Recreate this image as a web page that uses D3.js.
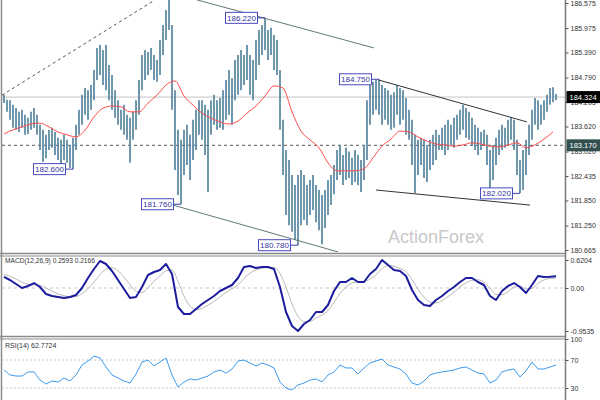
<!DOCTYPE html>
<html><head><meta charset="utf-8">
<script src="https://cdn.jsdelivr.net/npm/d3@7"></script>
<style>body{margin:0;background:#fff}svg{display:block}text{font-family:"Liberation Sans",Arial,sans-serif}</style>
</head><body><svg id="c" width="600" height="400"></svg>
<script>
// ---- data ----
const barHigh = [184.38,184.26,184.25,184.14,184.06,183.97,184.02,183.90,183.83,183.97,
184.06,183.90,183.66,183.54,183.42,183.54,183.59,183.49,183.35,183.30,
183.42,183.30,183.18,183.35,183.66,184.02,184.38,184.54,184.49,184.61,
184.97,185.50,185.57,185.45,185.57,185.09,184.85,184.49,184.25,184.02,
184.14,183.90,183.83,183.97,184.25,184.73,185.33,185.45,185.40,185.50,
185.33,185.21,185.69,186.05,186.41,186.65,186.05,184.49,183.54,183.30,
183.54,183.66,183.42,183.78,184.02,184.25,184.25,184.14,184.02,184.25,
184.38,184.25,184.30,184.49,184.73,184.97,184.78,185.21,185.33,185.45,
185.33,185.57,185.33,185.21,185.69,185.93,186.05,186.22,185.93,185.98,
185.81,185.69,184.97,183.78,183.06,182.82,182.46,182.22,182.46,182.58,
182.46,182.22,182.34,182.46,182.22,182.10,181.98,182.10,182.34,182.46,
182.70,183.06,183.18,182.94,183.11,183.02,182.87,183.06,182.94,182.82,
183.18,184.25,184.61,184.69,184.73,184.75,184.61,184.54,184.49,184.38,
184.44,184.61,184.54,184.49,184.30,184.02,183.78,183.42,183.30,183.35,
183.30,183.18,183.30,183.42,183.54,183.42,183.59,183.66,183.78,183.66,
183.83,183.90,184.02,184.14,184.06,183.97,183.83,183.66,183.59,183.49,
183.54,183.42,183.06,183.18,183.35,183.54,183.66,183.59,183.78,183.83,
183.78,183.30,182.82,183.06,183.30,183.66,184.02,184.30,184.25,184.14,
184.25,184.38,184.54,184.56,184.40];
const barLow = [184.18,183.97,183.78,183.59,183.54,183.49,183.59,183.42,183.44,183.54,
183.59,183.42,183.06,182.77,182.86,183.06,183.11,182.94,182.82,182.70,
182.82,182.75,182.63,182.60,183.06,183.42,183.66,183.90,183.78,184.02,
184.25,184.73,184.85,184.61,184.49,184.25,184.02,183.83,183.66,183.54,
183.42,183.30,182.75,183.30,183.54,183.90,184.49,184.73,184.85,184.97,
184.73,184.69,184.85,185.33,185.69,185.93,184.02,182.58,181.98,181.76,
182.46,182.70,182.34,182.82,183.06,183.42,183.30,182.94,182.05,183.42,
183.66,183.54,183.59,183.54,183.78,183.90,183.66,184.25,184.38,184.49,
184.61,184.73,184.38,184.25,184.73,185.09,185.33,185.45,185.21,185.33,
184.97,184.85,183.54,182.46,181.50,181.26,181.10,180.91,180.78,181.26,
181.38,181.26,181.50,181.62,181.33,181.14,180.80,181.19,181.50,181.74,
182.00,182.34,182.46,182.22,182.34,182.39,182.22,182.29,182.22,182.05,
182.34,182.82,183.66,183.90,184.02,183.90,183.66,183.78,183.66,183.54,
183.59,183.90,183.66,183.78,183.42,183.30,182.70,182.03,182.46,182.70,
182.39,182.29,182.58,182.70,182.82,183.06,183.06,182.94,183.06,183.18,
183.11,183.30,183.42,183.54,183.35,183.30,183.18,183.06,182.94,183.06,
183.18,182.70,182.15,182.34,182.70,182.94,183.06,183.11,183.18,183.30,
183.06,182.46,182.02,182.10,182.46,182.94,183.30,183.66,183.54,183.66,
183.78,183.97,184.14,184.20,184.25];
// moving average, one value every 3 bars
const maValues = [183.44,183.54,183.61,183.68,183.70,183.61,183.49,183.42,183.37,183.53,
183.85,184.06,184.11,184.09,183.97,183.97,184.18,184.37,184.61,184.71,
184.35,184.13,183.94,183.82,183.73,183.68,183.75,183.94,184.11,184.35,
184.59,184.54,183.97,183.51,183.30,183.11,182.75,182.56,182.56,182.56,
182.61,182.87,183.15,183.32,183.51,183.49,183.37,183.27,183.20,183.18,
183.15,183.18,183.23,183.20,183.15,183.13,183.18,183.23,183.11,183.18,
183.32,183.49];
// MACD and signal, one value every 2 bars
const macdValues = [0.244,0.177,0.088,0.000,0.044,0.110,0.022,-0.133,-0.178,-0.200,
-0.222,-0.200,-0.155,0.000,0.221,0.421,0.598,0.532,0.377,0.177,
-0.022,-0.222,-0.200,0.022,0.288,0.354,0.399,0.532,0.310,-0.421,
-0.577,-0.577,-0.465,-0.355,-0.266,-0.178,-0.067,0.000,0.066,0.221,
0.465,0.487,0.443,0.465,0.465,0.421,0.022,-0.532,-0.843,-0.953,
-0.798,-0.710,-0.532,-0.532,-0.377,-0.067,0.133,0.133,0.221,0.133,
0.133,0.310,0.421,0.620,0.510,0.399,0.377,0.266,-0.045,-0.266,
-0.377,-0.399,-0.266,-0.178,-0.067,0.022,0.133,0.221,0.221,0.133,
0.066,-0.178,-0.266,-0.067,0.044,0.110,0.022,-0.111,0.066,0.266,
0.244,0.250,0.259];
const signalValues = [0.30,0.26,0.20,0.13,0.08,0.07,0.06,0.00,-0.07,-0.13,
-0.17,-0.20,-0.19,-0.13,-0.02,0.13,0.30,0.42,0.45,0.38,
0.24,0.07,-0.07,-0.10,0.00,0.15,0.27,0.38,0.40,0.15,
-0.18,-0.40,-0.48,-0.45,-0.38,-0.30,-0.20,-0.10,-0.02,0.07,
0.21,0.33,0.40,0.44,0.45,0.45,0.32,0.02,-0.35,-0.63,
-0.75,-0.74,-0.67,-0.60,-0.50,-0.32,-0.12,0.02,0.11,0.14,
0.14,0.20,0.29,0.43,0.50,0.48,0.43,0.36,0.19,-0.03,
-0.20,-0.31,-0.33,-0.28,-0.19,-0.09,0.02,0.11,0.17,0.18,
0.13,0.00,-0.14,-0.15,-0.08,0.02,0.04,-0.02,-0.01,0.10,
0.18,0.21,0.217];
// RSI(14), one value every 2 bars
const rsiValues = [55.7,48.6,47.1,47.1,52.9,52.9,41.4,35.7,40.0,38.6,
44.3,40.0,48.6,62.9,68.6,75.7,72.9,60.0,48.6,44.3,
40.0,37.1,50.0,67.1,70.0,61.4,67.1,72.9,48.6,31.4,
38.6,42.9,41.4,44.3,47.1,52.9,55.7,51.4,57.1,68.6,
70.0,65.7,61.4,65.7,62.9,58.6,38.6,30.0,27.1,34.3,
37.1,41.4,42.9,38.6,48.6,52.9,62.9,58.6,58.6,50.0,
58.6,65.7,68.6,71.4,62.9,60.0,57.1,50.0,37.1,34.3,
40.0,48.6,51.4,52.9,54.3,55.7,58.6,60.0,55.7,51.4,
50.0,37.1,41.4,52.9,55.7,57.1,45.7,54.3,67.1,57.1,
57.1,60.0,62.8];
const priceTicks = [186.575,185.975,185.390,184.790,184.205,183.620,183.020,182.435,181.850,181.250,180.665];
const macdTicks = [0.6204,0,-0.9535];
const macdTickLabels = ["0.6204","0.00","-0.9535"];
const rsiTicks = [100,70,30];
const lastPrice = 184.324;
const refLevel = 183.170;
const annBars = [87,125,23,59,98,172];
const annPrices = [186.22,184.75,182.60,181.76,180.78,182.02];
const annTexts = ["186.220","184.750","182.600","181.760","180.780","182.020"];
// trend lines: [barIndex, price] pairs
const dottedLine = [[-0.7,184.37],[49.7,186.62]];
const channelUpper = [[64.3,186.65],[123.3,185.50]];
const channelLower = [[56.3,181.74],[111.3,180.62]];
const triUpper = [[125,184.73],[174.3,183.73]];
const triLower = [[124,182.10],[175.3,181.74]];

// ---- drawing ----
const svg = d3.select("#c");
const x = d3.scaleLinear().domain([0,184]).range([4,556]);
const yP = d3.scaleLinear().domain([180.665,186.575]).range([250,3]);
const yM = d3.scaleLinear().domain([-0.9535,0.6204]).range([331,260]);
const yR = d3.scaleLinear().domain([30,70]).range([388,360]);
const AX = 565.5;

const defs = svg.append("defs");
defs.append("clipPath").attr("id","cm").append("rect").attr("x",2).attr("y",0).attr("width",563).attr("height",253);
defs.append("clipPath").attr("id","cd").append("rect").attr("x",2).attr("y",256).attr("width",563).attr("height",80);
defs.append("clipPath").attr("id","cr").append("rect").attr("x",2).attr("y",339).attr("width",563).attr("height",61);

// panel borders
const border = svg.append("g").attr("stroke","#8a8a8a").attr("fill","none");
border.append("line").attr("x1",1.5).attr("x2",1.5).attr("y1",0).attr("y2",400).attr("stroke-width",1.5);
border.append("line").attr("x1",0).attr("x2",AX).attr("y1",253.5).attr("y2",253.5).attr("stroke-width",1.5);
border.append("line").attr("x1",0).attr("x2",AX).attr("y1",256).attr("y2",256).attr("stroke-width",1);
border.append("line").attr("x1",0).attr("x2",AX).attr("y1",336.5).attr("y2",336.5).attr("stroke-width",1.5);
border.append("line").attr("x1",0).attr("x2",AX).attr("y1",339).attr("y2",339).attr("stroke-width",1);

// watermark
svg.append("text").attr("x",388).attr("y",243).attr("font-size",18).attr("fill","#c9c9c9").text("ActionForex");

const main = svg.append("g").attr("clip-path","url(#cm)");
main.append("line").attr("x1",2).attr("x2",AX).attr("y1",yP(lastPrice)).attr("y2",yP(lastPrice))
  .attr("stroke","#c4c4c4").attr("stroke-width",1);
main.append("line").attr("x1",2).attr("x2",AX).attr("y1",yP(refLevel)).attr("y2",yP(refLevel))
  .attr("stroke","#555").attr("stroke-width",1).attr("stroke-dasharray","3,3");

// bars
main.append("g").selectAll("line").data(barHigh).join("line")
  .attr("x1",(d,i)=>x(i)).attr("x2",(d,i)=>x(i))
  .attr("y1",d=>yP(d)).attr("y2",(d,i)=>yP(barLow[i]))
  .attr("stroke","#56859f").attr("stroke-width",1.7);

// MA
main.append("path").datum(maValues)
  .attr("d",d3.line().x((d,i)=>x(i*3)).y(d=>yP(d)).curve(d3.curveMonotoneX))
  .attr("fill","none").attr("stroke","#ff4a4a").attr("stroke-width",1);

// trend lines
const tl = d3.line().x(d=>x(d[0])).y(d=>yP(d[1]));
main.append("path").datum(dottedLine).attr("d",tl).attr("stroke","#555").attr("stroke-dasharray","3,3").attr("fill","none");
[channelUpper,channelLower].forEach(l=>main.append("path").datum(l).attr("d",tl).attr("stroke","#5f7878").attr("stroke-width",1).attr("fill","none"));
[triUpper,triLower].forEach(l=>main.append("path").datum(l).attr("d",tl).attr("stroke","#333").attr("stroke-width",1).attr("fill","none"));

// annotations
annBars.forEach((b,k)=>{
  const bx = x(b), by = yP(annPrices[k]);
  const g = main.append("g");
  g.append("line").attr("x1",bx-7).attr("x2",bx).attr("y1",by).attr("y2",by).attr("stroke","#3d3db0");
  g.append("rect").attr("x",bx-39.5).attr("y",by-5.5).attr("width",32).attr("height",11)
    .attr("fill","#fff").attr("stroke","#4a4ac0").attr("stroke-width",1);
  g.append("text").attr("x",bx-23.5).attr("y",by+3).attr("text-anchor","middle")
    .attr("font-size",8).attr("fill","#3535a0").text(annTexts[k]);
});

// MACD panel
const mg = svg.append("g").attr("clip-path","url(#cd)");
mg.append("line").attr("x1",2).attr("x2",AX).attr("y1",yM(0)).attr("y2",yM(0)).attr("stroke","#c8c8c8").attr("stroke-dasharray","3,3");
mg.append("path").datum(signalValues).attr("d",d3.line().x((d,i)=>x(i*2)).y(d=>yM(d)).curve(d3.curveMonotoneX))
  .attr("fill","none").attr("stroke","#b9b9b9").attr("stroke-width",1);
mg.append("path").datum(macdValues).attr("d",d3.line().x((d,i)=>x(i*2)).y(d=>yM(d)))
  .attr("fill","none").attr("stroke","#1c1c9e").attr("stroke-width",2).attr("stroke-linejoin","round");
svg.append("text").attr("x",5).attr("y",263).attr("font-size",6.6).attr("fill","#333").text("MACD(12,26,9) 0.2593 0.2166");

// RSI panel
const rg = svg.append("g").attr("clip-path","url(#cr)");
[70,30].forEach(v=>rg.append("line").attr("x1",2).attr("x2",AX).attr("y1",yR(v)).attr("y2",yR(v)).attr("stroke","#c8c8c8").attr("stroke-dasharray","2,2"));
rg.append("path").datum(rsiValues).attr("d",d3.line().x((d,i)=>x(i*2)).y(d=>yR(d)))
  .attr("fill","none").attr("stroke","#3c9cf0").attr("stroke-width",1);
svg.append("text").attr("x",5).attr("y",348).attr("font-size",7).attr("fill","#333").text("RSI(14) 62.7724");

// axes
function styleAxis(g){
  g.select(".domain").remove();
  g.selectAll(".tick line").attr("stroke","#555");
  g.selectAll(".tick text").attr("font-size",7).attr("fill","#333").attr("font-family","Liberation Sans, Arial, sans-serif");
}
svg.append("line").attr("x1",AX).attr("x2",AX).attr("y1",0).attr("y2",400).attr("stroke","#7a7a7a").attr("stroke-width",1.5);
svg.append("g").attr("transform",`translate(${AX},0)`)
  .call(d3.axisRight(yP).tickValues(priceTicks).tickSize(3).tickPadding(2).tickFormat(d3.format(".3f"))).call(styleAxis);
svg.append("g").attr("transform",`translate(${AX},0)`)
  .call(d3.axisRight(yM).tickValues(macdTicks).tickSize(3).tickPadding(2).tickFormat((d,i)=>macdTickLabels[i])).call(styleAxis);
svg.append("g").attr("transform",`translate(${AX},0)`)
  .call(d3.axisRight(yR).tickValues(rsiTicks).tickSize(3).tickPadding(2).tickFormat(d3.format("d"))).call(styleAxis);

// price flags
function flag(v, bg){
  const yy = yP(v);
  svg.append("rect").attr("x",AX+1).attr("y",yy-6).attr("width",34).attr("height",12).attr("fill",bg);
  svg.append("text").attr("x",AX+4).attr("y",yy+2.5).attr("font-size",7.5).attr("fill","#fff").text(d3.format(".3f")(v));
}
flag(lastPrice,"#000");
flag(refLevel,"#33504f");
</script></body></html>
